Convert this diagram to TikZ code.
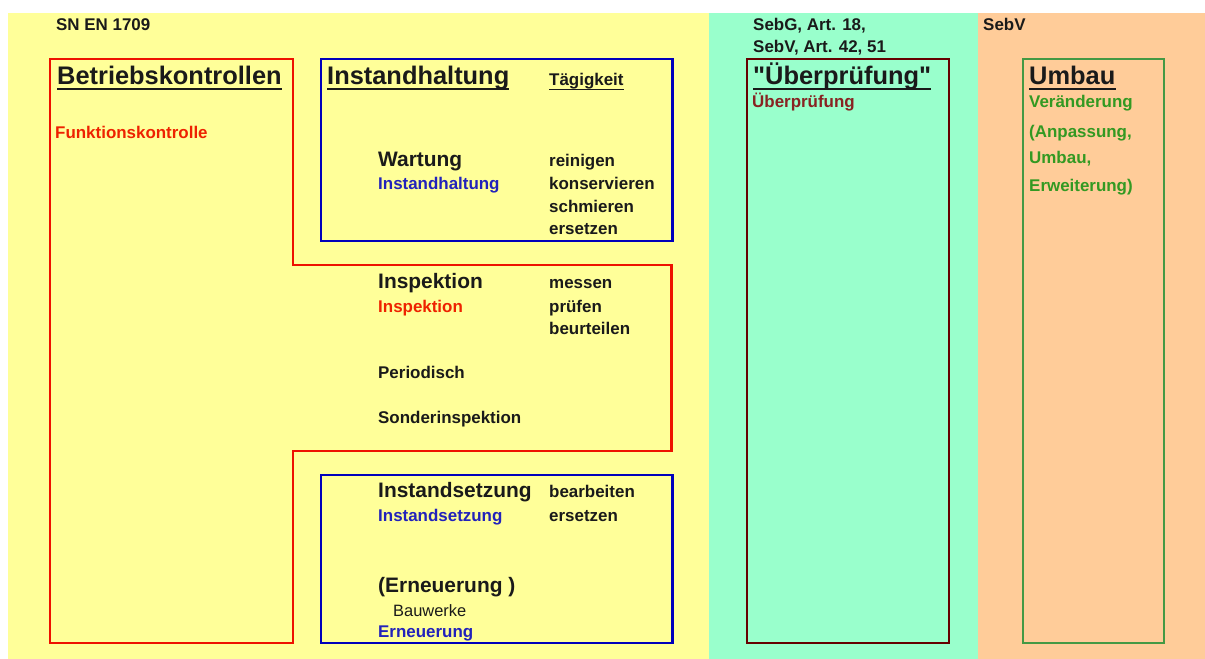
\documentclass[tikz,border=0pt]{standalone}
\usepackage{fontspec}
\setmainfont{Liberation Sans}
\newfontfamily\quotefont{Liberation Sans}
\usetikzlibrary{calc}
\definecolor{bgyellow}{HTML}{FFFF99}
\definecolor{bggreen}{HTML}{99FFCC}
\definecolor{bgorange}{HTML}{FFCC99}
\definecolor{boxred}{HTML}{EE1100}
\definecolor{boxblue}{HTML}{0000BB}
\definecolor{boxdark}{HTML}{660000}
\definecolor{boxgreen}{HTML}{449944}
\definecolor{txtred}{HTML}{EE2200}
\definecolor{txtblue}{HTML}{2222BB}
\definecolor{txtdark}{HTML}{882222}
\definecolor{txtgreen}{HTML}{339922}
\definecolor{txtblack}{HTML}{1A1A1A}
\tikzset{
  lbl/.style={anchor=base west, inner sep=0pt, text=txtblack, font=\bfseries\fontsize{17}{20}\selectfont},
  bighead/.style={lbl, font=\bfseries\fontsize{25.5}{30}\selectfont},
  midhead/.style={lbl, font=\bfseries\fontsize{21}{25}\selectfont},
  plainlbl/.style={lbl, font=\fontsize{16.5}{20}\selectfont},
  frame/.style={line width=3pt, line join=miter},
  thinframe/.style={line width=2.5pt, line join=miter},
  uline/.style={line width=1.8pt, txtblack},
}
\begin{document}
\begin{tikzpicture}[x=1bp, y=-1bp]
\useasboundingbox (0,0) rectangle (1205,659);
\fill[white] (0,0) rectangle (1205,659);
% backgrounds
\fill[bgyellow] (8,13) rectangle (709,659);
\fill[bggreen] (709,13) rectangle (978,659);
\fill[bgorange] (978,13) rectangle (1205,659);
% frames
\draw[frame, boxred] (50,59) -- (293,59) -- (293,265) -- (671,265) -- (671,451) -- (293,451) -- (293,643) -- (50,643) -- cycle;
\draw[frame, boxblue] (321,59) rectangle (672,241);
\draw[frame, boxblue] (321,475) rectangle (672,643);
\draw[thinframe, boxdark] (747,59) rectangle (949,643);
\draw[thinframe, boxgreen] (1023,59) rectangle (1164,643);
% top labels
\node[lbl] (sn) at (56,31) {SN EN 1709};
\node[lbl] (sebg) at (753,31) {SebG, Art. 18,};
\node[lbl] (sebva) at (753,53) {SebV, Art. 42, 51};
\node[lbl] (sebv) at (983,31) {SebV};
% Betriebskontrollen
\node[bighead] (bk) at (57,85) {Betriebskontrollen};
\draw[uline] ($(bk.base west)+(0,4)$) -- ($(bk.base east)+(0,4)$);
\node[lbl, text=txtred] (fk) at (55,139) {Funktionskontrolle};
% Instandhaltung
\node[bighead] (ih) at (327,85) {Instandhaltung};
\draw[uline] ($(ih.base west)+(0,4)$) -- ($(ih.base east)+(0,4)$);
\node[lbl] (tk) at (549,86) {Tägigkeit};
\draw[uline, line width=1.3pt] ($(tk.base west)+(0,3.5)$) -- ($(tk.base east)+(0,3.5)$);
\node[midhead] (wa) at (378,167) {Wartung};
\node[lbl, text=txtblue] (wab) at (378,190) {Instandhaltung};
\node[lbl] (w1) at (549,167) {reinigen};
\node[lbl] (w2) at (549,190) {konservieren};
\node[lbl] (w3) at (549,213) {schmieren};
\node[lbl] (w4) at (549,235) {ersetzen};
% Inspektion
\node[midhead] (in) at (378,288) {Inspektion};
\node[lbl, text=txtred] (inr) at (378,312) {Inspektion};
\node[lbl] (i1) at (549,288) {messen};
\node[lbl] (i2) at (549,312) {prüfen};
\node[lbl] (i3) at (549,334) {beurteilen};
\node[lbl] (pe) at (378,378) {Periodisch};
\node[lbl] (so) at (378,423) {Sonderinspektion};
% Instandsetzung
\node[midhead] (is) at (378,497) {Instandsetzung};
\node[lbl, text=txtblue] (isb) at (378,521) {Instandsetzung};
\node[lbl] (s1) at (549,497) {bearbeiten};
\node[lbl] (s2) at (549,521) {ersetzen};
\node[midhead] (er) at (378,592) {(Erneuerung )};
\node[plainlbl] (bw) at (393,616) {Bauwerke};
\node[lbl, text=txtblue] (erb) at (378,637) {Erneuerung};
% Ueberpruefung
\node[bighead, font=\quotefont\bfseries\fontsize{25.5}{30}\selectfont] (up) at (753,85) {"Überprüfung"};
\draw[uline] ($(up.base west)+(0,4)$) -- ($(up.base east)+(0,4)$);
\node[lbl, text=txtdark] (upd) at (752,108) {Überprüfung};
% Umbau
\node[bighead] (ub) at (1029,85) {Umbau};
\draw[uline] ($(ub.base west)+(0,4)$) -- ($(ub.base east)+(0,4)$);
\node[lbl, text=txtgreen] (v1) at (1029,108) {Veränderung};
\node[lbl, text=txtgreen] (v2) at (1029,138) {(Anpassung,};
\node[lbl, text=txtgreen] (v3) at (1029,164) {Umbau,};
\node[lbl, text=txtgreen] (v4) at (1029,192) {Erweiterung)};
\end{tikzpicture}
\end{document}
